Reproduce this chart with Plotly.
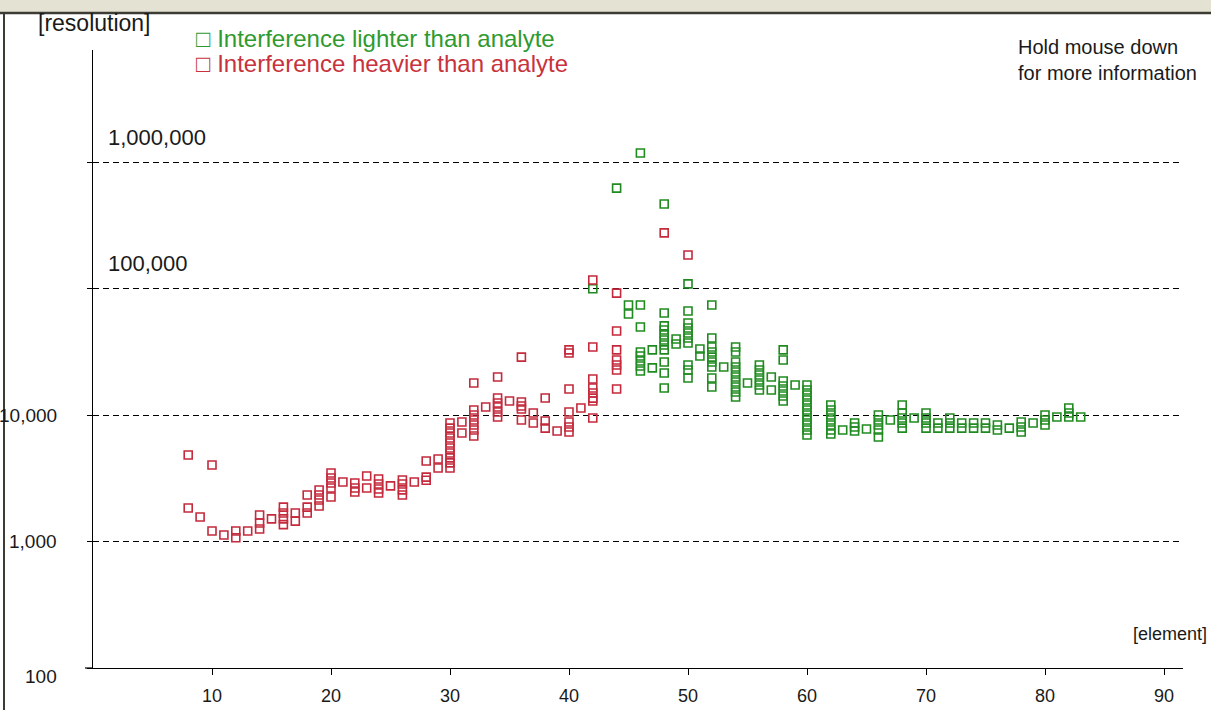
import math
import plotly.graph_objects as go

# ---------------- data ----------------
red_element = (
    [8, 8, 9, 10, 10, 11, 12, 12, 13, 14, 14, 14, 15, 16, 16, 16, 16, 17, 17,
     18, 18, 18, 19, 19, 19, 19, 20, 20, 20, 20, 20, 21, 22, 22, 22, 23, 23,
     24, 24, 24, 24, 25, 26, 26, 26, 26, 27, 28, 28, 28, 29, 29]
    + [30] * 10
    + [31, 31] + [32] * 7 + [33] + [34] * 6 + [35] + [36] * 5 + [37, 37]
    + [38] * 3 + [39] + [40] * 7 + [41] + [42] * 8 + [44] * 7 + [48, 50]
)
red_resolution = (
    [4830, 1840, 1560, 4030, 1210, 1125, 1210, 1070, 1210, 1620, 1400, 1255,
     1510, 1870, 1680, 1510, 1360, 1680, 1450, 2330, 1870, 1680, 2550, 2330,
     2130, 1910, 3480, 3180, 2900, 2650, 2250, 2950, 2900, 2650, 2460, 3290,
     2650, 3120, 2850, 2600, 2420, 2750, 3060, 2850, 2560, 2330, 2950, 4330,
     3230, 3050, 4490, 3810]
    + [8640, 7880, 7210, 6580, 6010, 5490, 5010, 4580, 4180, 3810]
    + [8810, 7210]
    + [17900, 10950, 10000, 9130, 8330, 7610, 6820]
    + [11570]
    + [19950, 13620, 12440, 11570, 10560, 9640]
    + [12900]
    + [28700, 12670, 11780, 11150, 9130]
    + [10370, 8640]
    + [13620, 8970, 7880]
    + [7480]
    + [32700, 30940, 16060, 10560, 8810, 8040, 7340]
    + [11350]
    + [116600, 34500, 19280, 16330, 14920, 13600, 12900, 9470]
    + [92000, 46100, 32700, 27200, 24830, 22680, 16060]
    + [275000, 184000]
)

green_element = (
    [42, 44, 45, 45] + [46] * 8 + [47, 47] + [48] * 11 + [49, 49] + [50] * 10
    + [51, 51] + [52] * 9 + [53] + [54] * 10 + [55] + [56] * 6 + [57, 57]
    + [58] * 7 + [59] + [60] * 11 + [62] * 7 + [63] + [64] * 3 + [65]
    + [66] * 5 + [67] + [68] * 5 + [69] + [70] * 4 + [71] * 2 + [72] * 3
    + [73] * 2 + [74] * 2 + [75] * 2 + [76] * 2 + [77] + [78] * 3 + [79]
    + [80] * 3 + [81] + [82] * 3 + [83]
)
green_resolution = (
    [99600, 622000, 74100, 62800]
    + [1178000, 74100, 49600, 31500, 29250, 26720, 24380, 22270]
    + [32700, 23560]
    + [466000, 64000, 50600, 47000, 42900, 39150, 35750, 32700, 26240, 21470, 16330]
    + [39900, 36400]
    + [108700, 66400, 53300, 48700, 44500, 40600, 37100, 24830, 22680, 19600]
    + [33260, 29250]
    + [74100, 40600, 34500, 31500, 28700, 26240, 23950, 19600, 16630]
    + [23950]
    + [34500, 31500, 26240, 23950, 21880, 19950, 18240, 16630, 15200, 13870]
    + [17900]
    + [24830, 22680, 20700, 18920, 17260, 15770]
    + [19950, 15770]
    + [32700, 27200, 18570, 16940, 15480, 14130, 12900]
    + [17260]
    + [17260, 15770, 14390, 13140, 11990, 10950, 10000, 9130, 8330, 7610, 6950]
    + [11990, 10950, 10000, 9130, 8330, 7610, 7080]
    + [7610]
    + [8640, 8040, 7480]
    + [7760]
    + [10000, 9130, 8330, 7610, 6700]
    + [9130]
    + [11990, 10370, 9470, 8640, 7880]
    + [9470]
    + [10370, 9470, 8640, 7880]
    + [8640, 7880]
    + [9470, 8640, 7880]
    + [8640, 7880]
    + [8640, 7880]
    + [8640, 7880]
    + [8330, 7610]
    + [7880]
    + [8810, 8040, 7340]
    + [8640]
    + [10000, 9130, 8330]
    + [9640]
    + [11350, 10370, 9640]
    + [9640]
)

x_ticks = [10, 20, 30, 40, 50, 60, 70, 80, 90]
y_ticks = [100, 1000, 10000, 100000, 1000000]
y_tick_labels = ["100", "1,000", "10,000", "100,000", "1,000,000"]
legend_labels = ["Interference lighter than analyte", "Interference heavier than analyte"]

# ---------------- layout geometry ----------------
W, H = 1211, 710
ML, MR, MT, MB = 93, 28, 50, 42
PW, PH = W - ML - MR, H - MT - MB
X_UNIT = 11.9          # px per element
DECADE = 126.5         # px per decade
x_range = [0, PW / X_UNIT]
y_range = [2, 2 + PH / DECADE]

GREEN = "#1f8a1f"
RED = "#c42a3c"
GREEN_TXT = "#2f9a2f"
RED_TXT = "#c8323c"
TXT = "#1a1a1a"
BAND = "#e4e2d2"
FONT = "Liberation Sans, Arial, sans-serif"


def px_x(px):
    return (px - ML) / PW


def px_y(py):
    return 1 - (py - MT) / PH


fig = go.Figure()
fig.add_trace(go.Scatter(
    x=green_element, y=green_resolution, mode="markers", name=legend_labels[0],
    marker=dict(symbol="square-open", size=8, color=GREEN, line=dict(width=1.6)),
    showlegend=False, cliponaxis=False,
))
fig.add_trace(go.Scatter(
    x=red_element, y=red_resolution, mode="markers", name=legend_labels[1],
    marker=dict(symbol="square-open", size=8, color=RED, line=dict(width=1.6)),
    showlegend=False, cliponaxis=False,
))

annotations = []
# y tick labels
for v, lab in zip(y_ticks, y_tick_labels):
    lv = math.log10(v)
    if v >= 100000:
        annotations.append(dict(x=px_x(106), xref="paper", y=lv, yref="y", text=lab,
                                xanchor="left", yanchor="middle", yshift=25,
                                showarrow=False, font=dict(size=22, color=TXT)))
    else:
        annotations.append(dict(x=px_x(59), xref="paper", y=lv, yref="y", text=lab,
                                xanchor="right", yanchor="middle",
                                yshift=(-8 if v == 100 else 0),
                                showarrow=False, font=dict(size=19, color=TXT)))

annotations.append(dict(x=px_x(36), xref="paper", y=px_y(23), yref="paper",
                        text="[resolution]", xanchor="left", yanchor="middle",
                        showarrow=False, font=dict(size=23, color=TXT)))
annotations.append(dict(x=px_x(1209), xref="paper", y=px_y(634), yref="paper",
                        text="[element]", xanchor="right", yanchor="middle",
                        showarrow=False, font=dict(size=18, color=TXT)))
annotations.append(dict(x=px_x(1016), xref="paper", y=px_y(60), yref="paper",
                        text="Hold mouse down<br>for more information", align="left",
                        xanchor="left", yanchor="middle",
                        showarrow=False, font=dict(size=20, color=TXT)))
for i, (lab, col) in enumerate(zip(legend_labels, [GREEN_TXT, RED_TXT])):
    annotations.append(dict(x=px_x(194), xref="paper", y=px_y(38 + 26 * i), yref="paper",
                            text="\u25a1 " + lab, xanchor="left", yanchor="middle",
                            showarrow=False, font=dict(size=24, color=col)))

shapes = [
    # white page below the window chrome (paper background is the chrome colour)
    dict(type="rect", xref="paper", yref="paper", x0=px_x(0), x1=px_x(W + 5),
         y0=px_y(13), y1=px_y(H + 5), fillcolor="white", line=dict(width=0),
         layer="below"),
    # dark border lines of the window
    dict(type="line", xref="paper", yref="paper", x0=px_x(0), x1=px_x(W),
         y0=px_y(13), y1=px_y(13), line=dict(color="#3c3c34", width=2.5)),
    dict(type="line", xref="paper", yref="paper", x0=px_x(4), x1=px_x(4),
         y0=px_y(13), y1=px_y(H), line=dict(color="#3c3c34", width=2)),
    # slight overhang of the x axis line to the left of the y axis
    dict(type="line", xref="paper", yref="paper", x0=px_x(85), x1=px_x(ML),
         y0=0, y1=0, line=dict(color="black", width=1.2)),
]

fig.update_layout(
    width=W, height=H,
    margin=dict(l=ML, r=MR, t=MT, b=MB, pad=0, autoexpand=False),
    paper_bgcolor=BAND, plot_bgcolor="white",
    font=dict(family=FONT, size=19, color=TXT),
    showlegend=False,
    annotations=annotations,
    shapes=shapes,
    hovermode=False,
)
fig.update_xaxes(
    range=x_range, tickvals=x_ticks, ticks="outside", ticklen=6, tickwidth=1,
    tickcolor="black", showline=True, linecolor="black", linewidth=1.2,
    showgrid=False, zeroline=False, tickfont=dict(size=18, color=TXT),
    ticklabelstandoff=5, automargin=False,
)
fig.update_yaxes(
    type="log", range=y_range, tickvals=y_ticks, showticklabels=False,
    ticks="outside", ticklen=5, tickcolor="black",
    showline=True, linecolor="black", linewidth=1.2,
    showgrid=True, gridcolor="black", gridwidth=1, griddash="6px,4px",
    zeroline=False, automargin=False,
)

fig.write_html(
    "out.html",
    config={"displayModeBar": False},
    post_script="document.body.style.margin='0';document.body.style.overflow='hidden';",
)
